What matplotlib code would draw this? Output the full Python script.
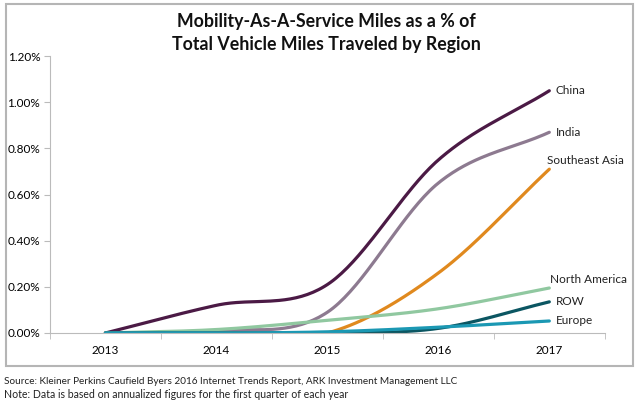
import numpy as np
import matplotlib
matplotlib.use("Agg")
import matplotlib.pyplot as plt
from matplotlib import ticker
from matplotlib.patches import Rectangle

plt.rcParams['font.family'] = ['Lato', 'DejaVu Sans']

# Data (percent of total vehicle miles)
years = ['2013', '2014', '2015', '2016', '2017']
china = [0.0, 0.12, 0.21, 0.75, 1.05]
india = [0.0, 0.01, 0.09, 0.65, 0.87]
se_asia = [0.0, 0.0, 0.0, 0.26, 0.71]
north_america = [0.0, 0.015, 0.055, 0.105, 0.195]
row = [0.0, 0.0, 0.0, 0.02, 0.135]
europe = [0.0, 0.0, 0.005, 0.025, 0.052]

series = [
    ('China', china, '#4b1a45'),
    ('India', india, '#8d7a90'),
    ('Southeast Asia', se_asia, '#e0891e'),
    ('North America', north_america, '#90c8a0'),
    ('ROW', row, '#0b5662'),
    ('Europe', europe, '#1b98b3'),
]
label_offsets = {'China': 0.0, 'India': 0.0, 'Southeast Asia': 0.015,
                 'North America': 0.012, 'ROW': 0.0, 'Europe': 0.0}
label_dx = {'Southeast Asia': -0.08, 'North America': -0.05}


def smooth(y, n=40):
    """Catmull-Rom style smoothing, like Excel's smoothed line."""
    y = np.asarray(y, dtype=float)
    x = np.arange(len(y), dtype=float)
    m = np.zeros_like(y)
    m[1:-1] = (y[2:] - y[:-2]) / 2.0
    m[0] = y[1] - y[0]
    m[-1] = y[-1] - y[-2]
    xs, ys = [], []
    for i in range(len(y) - 1):
        t = np.linspace(0, 1, n)
        h00 = 2 * t**3 - 3 * t**2 + 1
        h10 = t**3 - 2 * t**2 + t
        h01 = -2 * t**3 + 3 * t**2
        h11 = t**3 - t**2
        xs.append(x[i] + t)
        ys.append(h00 * y[i] + h10 * m[i] + h01 * y[i + 1] + h11 * m[i + 1])
    return np.concatenate(xs), np.maximum(np.concatenate(ys), 0)


fig = plt.figure(figsize=(6.4, 4.01), dpi=100)
ax = fig.add_axes([0.078, 0.1696, 0.867, 0.6904])

for name, vals, color in series:
    xs, ys = smooth(vals)
    ax.plot(xs, ys, color=color, lw=2.3, solid_capstyle='round')
    ax.text(len(vals) - 1 + 0.06 + label_dx.get(name, 0), vals[-1] + label_offsets[name],
            name, fontsize=8.5, va='bottom' if label_offsets[name] else 'center',
            ha='left', color='#222222')

ax.set_xlim(-0.5, 4.5)
ax.set_ylim(0, 1.2)
ax.set_xticks(range(len(years)))
ax.set_xticklabels(years, fontsize=8.5)
ax.set_xticks(np.arange(-0.5, 4.6, 1), minor=True)
ax.tick_params(axis='x', which='major', length=0, pad=9)
ax.tick_params(axis='x', which='minor', length=4, color='#bbbbbb')
ax.set_yticks(np.arange(0, 1.21, 0.2))
ax.yaxis.set_major_formatter(ticker.FuncFormatter(lambda v, p: f"{v:.2f}%"))
ax.tick_params(axis='y', length=4, color='#bbbbbb', labelsize=8.5, pad=3)
for side in ['top', 'right']:
    ax.spines[side].set_visible(False)
for side in ['left', 'bottom']:
    ax.spines[side].set_color('#bbbbbb')

fig.text(0.51, 1 - 33 / 401, "Mobility-As-A-Service Miles as a % of\nTotal Vehicle Miles Traveled by Region",
         ha='center', va='center', fontsize=12.8, fontweight='bold', linespacing=1.4,
         color='#111111')

fig.patches.append(Rectangle((6 / 640, 35 / 401), 627 / 640, 362 / 401,
                             transform=fig.transFigure, fill=False,
                             edgecolor='#b5b5b5', lw=1.5))

fig.text(4 / 640, 1 - 381 / 401,
         "Source: Kleiner Perkins Caufield Byers 2016 Internet Trends Report, ARK Investment Management LLC",
         fontsize=7.2, va='center', ha='left', color='#222222')
fig.text(4 / 640, 1 - 395 / 401,
         "Note: Data is based on annualized figures for the first quarter of each year",
         fontsize=7.6, va='center', ha='left', color='#222222')

fig.savefig("out.png", dpi=100)
